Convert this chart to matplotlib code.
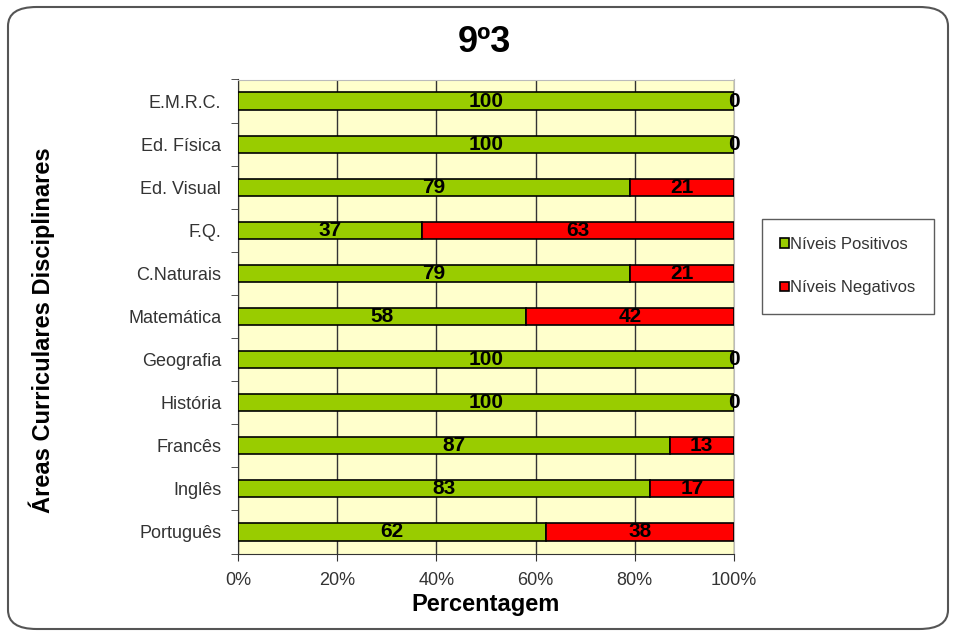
import numpy as np
import matplotlib.pyplot as plt
from matplotlib.patches import FancyBboxPatch

# data
disciplinas = ['E.M.R.C.', 'Ed. Física', 'Ed. Visual', 'F.Q.', 'C.Naturais',
               'Matemática', 'Geografia', 'História', 'Francês', 'Inglês', 'Português']
positivos = [100, 100, 79, 37, 79, 58, 100, 100, 87, 83, 62]
negativos = [0, 0, 21, 63, 21, 42, 0, 0, 13, 17, 38]
xticks_pct = [0, 20, 40, 60, 80, 100]

plt.rcParams['font.family'] = ['Liberation Sans', 'DejaVu Sans']

fig = plt.figure(figsize=(9.55, 6.35), dpi=100)
ax = fig.add_axes([238 / 955, 1 - 553.5 / 635, (734 - 238) / 955, (553.5 - 79.5) / 635])

# rounded frame around chart
frame = FancyBboxPatch((8 / 955, 6 / 635), 940 / 955, 622 / 635,
                       boxstyle='round,pad=0,rounding_size=0.03',
                       transform=fig.transFigure, facecolor='white',
                       edgecolor='#555555', linewidth=1.5, zorder=-10)
fig.patches.append(frame)

y = np.arange(len(disciplinas))
pos = np.array(positivos)
neg = np.array(negativos)
ax.set_facecolor('#FFFFCC')
ax.barh(y, pos, height=0.4, color='#99CC00', edgecolor='black', linewidth=1.2,
        label='Níveis Positivos', zorder=3)
ax.barh(y, neg, left=pos, height=0.4, color='#FF0000', edgecolor='black',
        linewidth=1.2, label='Níveis Negativos', zorder=3)

for i in range(len(disciplinas)):
    ax.text(pos[i] / 2, y[i], str(pos[i]), ha='center', va='center',
            fontsize=15, fontweight='bold', color='black', zorder=4)
    ax.text(pos[i] + neg[i] / 2, y[i], str(neg[i]), ha='center', va='center',
            fontsize=15, fontweight='bold', color='black', zorder=4)

ax.set_xlim(0, 100)
ax.set_ylim(len(disciplinas) - 0.5, -0.5)
ax.set_xticks(xticks_pct)
ax.set_xticklabels([f'{v}%' for v in xticks_pct], fontsize=13, color='#333333')
ax.set_yticks(y)
ax.set_yticklabels(disciplinas, fontsize=13, color='#333333')
ax.tick_params(axis='y', which='major', length=0, pad=12)
ax.set_yticks(np.arange(-0.5, len(disciplinas), 1), minor=True)
ax.tick_params(axis='y', which='minor', length=5, color='#333333')
ax.tick_params(axis='x', length=5, color='#333333', pad=8)
ax.grid(axis='x', color='#333333', linewidth=1, zorder=1)
for s in ['top', 'right']:
    ax.spines[s].set_color('#BBBBBB')
for s in ['left', 'bottom']:
    ax.spines[s].set_color('#333333')

ax.set_xlabel('Percentagem', fontsize=17, fontweight='bold', labelpad=3)
fig.text(42 / 955, 1 - 330 / 635, 'Áreas Curriculares Disciplinares', rotation=90,
         ha='center', va='center', fontsize=17, fontweight='bold')
fig.text(484 / 955, 1 - 43 / 635, '9º3', ha='center', va='center',
         fontsize=26, fontweight='bold')

leg = fig.legend(loc='center left', bbox_to_anchor=(762 / 955, 1 - 266 / 635),
                 fontsize=12, frameon=True, fancybox=False, edgecolor='#333333',
                 handlelength=0.5, handleheight=0.5, handletextpad=0.1,
                 labelspacing=1.7, borderpad=1.1, borderaxespad=0)
for t in leg.get_texts():
    t.set_color('#333333')

fig.savefig('out.png', dpi=100)
